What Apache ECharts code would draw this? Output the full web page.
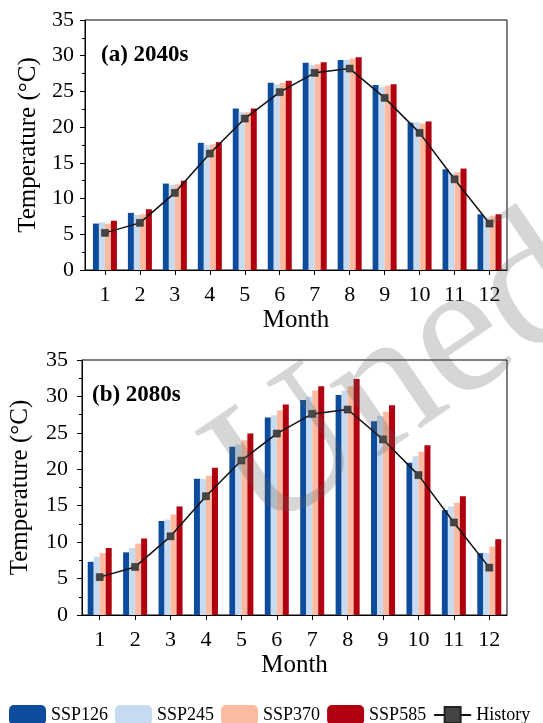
<!DOCTYPE html>
<html>
<head>
<meta charset="utf-8">
<script src="https://cdn.jsdelivr.net/npm/echarts@6/dist/echarts.min.js"></script>
<style>
  html, body { margin: 0; padding: 0; background: #fff; }
  #main { width: 543px; height: 723px; }
</style>
</head>
<body>
<div id="main"></div>
<script>
// months on the x axis
const months = [1, 2, 3, 4, 5, 6, 7, 8, 9, 10, 11, 12];
const yTicks = [0, 5, 10, 15, 20, 25, 30, 35];

// (a) 2040s
const a_ssp126 = [6.5, 8.0, 12.1, 17.8, 22.6, 26.2, 29.0, 29.4, 25.9, 20.6, 14.1, 7.8];
const a_ssp245 = [6.7, 7.7, 11.9, 17.5, 22.1, 26.0, 28.7, 29.4, 25.6, 20.7, 13.6, 7.4];
const a_ssp370 = [6.5, 7.8, 12.0, 17.6, 22.1, 26.2, 28.8, 29.6, 25.8, 20.5, 13.7, 7.6];
const a_ssp585 = [6.9, 8.5, 12.5, 17.9, 22.6, 26.5, 29.1, 29.8, 26.0, 20.8, 14.2, 7.8];

// (b) 2080s
const b_ssp126 = [7.3, 8.6, 12.9, 18.7, 23.1, 27.1, 29.5, 30.2, 26.6, 20.9, 14.4, 8.5];
const b_ssp245 = [8.0, 9.2, 13.1, 18.7, 23.4, 27.4, 30.0, 30.8, 27.3, 21.8, 14.9, 8.5];
const b_ssp370 = [8.5, 9.8, 13.8, 19.1, 24.0, 28.1, 30.8, 31.4, 27.9, 22.4, 15.4, 9.4];
const b_ssp585 = [9.2, 10.5, 14.9, 20.2, 24.9, 28.9, 31.4, 32.4, 28.8, 23.3, 16.3, 10.4];

// observed baseline, same in both panels
const history = [5.2, 6.6, 10.8, 16.3, 21.2, 24.9, 27.6, 28.2, 24.1, 19.2, 12.7, 6.5];

const colors = {
  SSP126: '#0d4c9c',
  SSP245: '#c6dbef',
  SSP370: '#fcbba1',
  SSP585: '#b0000f'
};
const font = 'Liberation Serif';

var chartDom = document.getElementById('main');
var myChart = echarts.init(chartDom);
var option;

const pairs = vals => vals.map((v, i) => [months[i], v]);

function xAxisFor(gridIndex, min) {
  return {
    type: 'value',
    gridIndex: gridIndex,
    min: min,
    max: 12.5,
    name: 'Month',
    nameLocation: 'middle',
    nameGap: 38,
    nameTextStyle: { fontFamily: font, fontSize: 25, color: '#000' },
    axisLine: { show: true, lineStyle: { color: '#000', width: 1 } },
    axisTick: { show: true, length: 5, customValues: months, lineStyle: { color: '#000' } },
    axisLabel: {
      customValues: months,
      margin: 14,
      fontFamily: font,
      fontSize: 22,
      color: '#000'
    },
    splitLine: { show: false }
  };
}

function yAxisFor(gridIndex, labelMargin, nameGap) {
  return {
    type: 'value',
    gridIndex: gridIndex,
    min: 0,
    max: 35,
    interval: 5,
    name: 'Temperature (°C)',
    nameLocation: 'middle',
    nameGap: nameGap,
    nameTextStyle: { fontFamily: font, fontSize: 25, color: '#000' },
    axisLine: { show: true, lineStyle: { color: '#000', width: 1 } },
    axisTick: { show: true, length: 5, lineStyle: { color: '#000' } },
    minorTick: { show: true, splitNumber: 2, length: 3, lineStyle: { color: '#000' } },
    axisLabel: {
      customValues: yTicks,
      margin: labelMargin,
      fontFamily: font,
      fontSize: 22,
      color: '#000'
    },
    splitLine: { show: false }
  };
}

function barSeries(name, vals, idx) {
  return {
    name: name,
    type: 'bar',
    xAxisIndex: idx,
    yAxisIndex: idx,
    barWidth: 6,
    barGap: '0%',
    itemStyle: { color: colors[name] },
    data: pairs(vals)
  };
}

function historySeries(idx) {
  return {
    name: 'History',
    type: 'line',
    xAxisIndex: idx,
    yAxisIndex: idx,
    symbol: 'rect',
    symbolSize: 7,
    z: 5,
    lineStyle: { color: '#111', width: 1.5 },
    itemStyle: { color: '#444', borderColor: '#222', borderWidth: 0.5 },
    data: pairs(history)
  };
}

option = {
  backgroundColor: '#fff',
  animation: false,
  title: [
    {
      text: '(a) 2040s',
      left: 96,
      top: 39,
      textStyle: { fontFamily: font, fontSize: 23, fontWeight: 'bold', color: '#000' }
    },
    {
      text: '(b) 2080s',
      left: 87,
      top: 379,
      textStyle: { fontFamily: font, fontSize: 23, fontWeight: 'bold', color: '#000' }
    }
  ],
  legend: {
    left: 4,
    top: 700,
    itemWidth: 37,
    itemHeight: 20,
    itemGap: 7,
    textStyle: { fontFamily: font, fontSize: 18, color: '#000' },
    data: ['SSP126', 'SSP245', 'SSP370', 'SSP585', 'History']
  },
  grid: [
    { left: 85, right: 36, top: 20, height: 250, show: true, borderColor: '#000', borderWidth: 1 },
    { left: 82, right: 36, top: 360, height: 255, show: true, borderColor: '#000', borderWidth: 1 }
  ],
  xAxis: [xAxisFor(0, 0.43), xAxisFor(1, 0.5)],
  yAxis: [yAxisFor(0, 11, 43), yAxisFor(1, 14, 49)],
  series: [
    barSeries('SSP126', a_ssp126, 0),
    barSeries('SSP245', a_ssp245, 0),
    barSeries('SSP370', a_ssp370, 0),
    barSeries('SSP585', a_ssp585, 0),
    historySeries(0),
    barSeries('SSP126', b_ssp126, 1),
    barSeries('SSP245', b_ssp245, 1),
    barSeries('SSP370', b_ssp370, 1),
    barSeries('SSP585', b_ssp585, 1),
    historySeries(1)
  ],
  // faint stamp across the lower panel
  graphic: [
    {
      type: 'text',
      x: 287,
      y: 574,
      rotation: 0.6,
      z: 100,
      silent: true,
      style: {
        text: 'Unedited',
        font: '190px "Liberation Serif"',
        fill: 'rgba(90,90,90,0.25)',
        align: 'left',
        verticalAlign: 'bottom'
      }
    }
  ]
};

option && myChart.setOption(option);
</script>
</body>
</html>
